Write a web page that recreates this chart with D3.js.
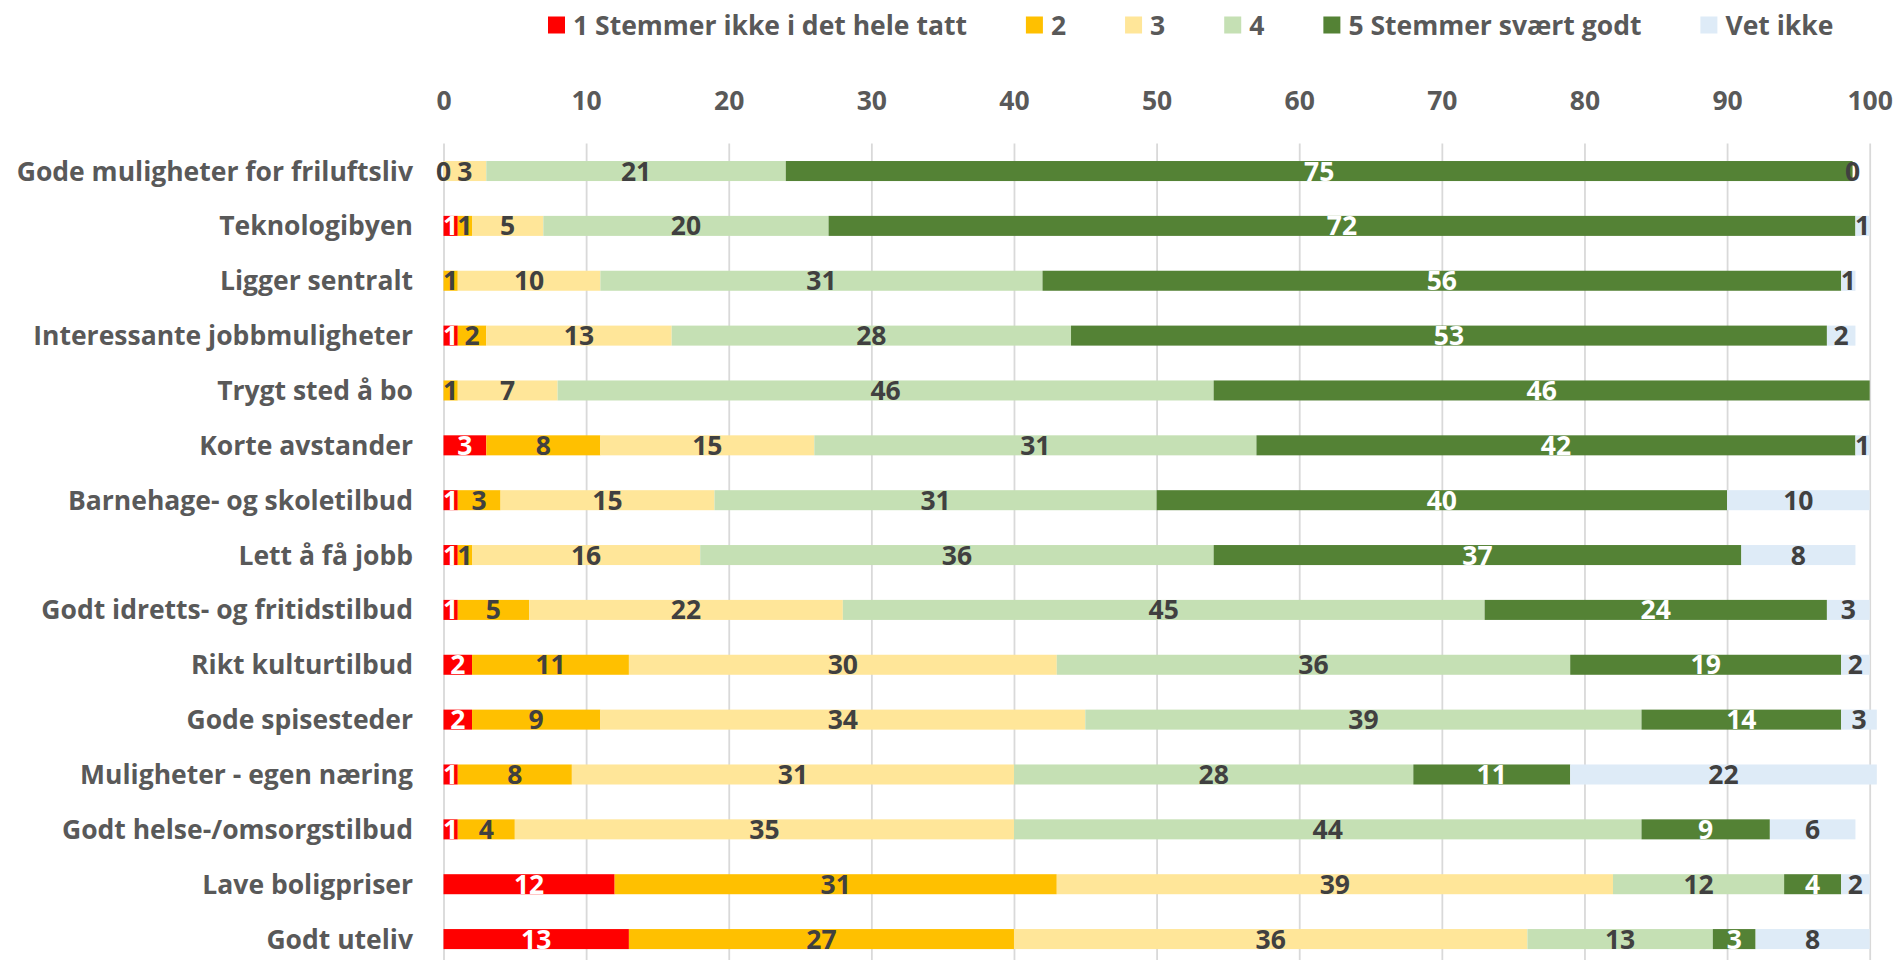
<!DOCTYPE html><html><head><meta charset="utf-8"><script src="https://cdn.jsdelivr.net/npm/d3@7"></script>
<style>body{margin:0;background:#fff}text{font-family:'Open Sans',sans-serif;font-weight:bold}</style></head><body>
<svg id="chart" width="1900" height="960"></svg>
<script>
const categories = ["Gode muligheter for friluftsliv","Teknologibyen","Ligger sentralt","Interessante jobbmuligheter","Trygt sted å bo","Korte avstander","Barnehage- og skoletilbud","Lett å få jobb","Godt idretts- og fritidstilbud","Rikt kulturtilbud","Gode spisesteder","Muligheter - egen næring","Godt helse-/omsorgstilbud","Lave boligpriser","Godt uteliv"];
const seriesNames = ["1 Stemmer ikke i det hele tatt","2","3","4","5 Stemmer svært godt","Vet ikke"];
const s1 = [null, 1, null, 1, null, 3, 1, 1, 1, 2, 2, 1, 1, 12, 13];
const s2 = [0, 1, 1, 2, 1, 8, 3, 1, 5, 11, 9, 8, 4, 31, 27];
const s3 = [3, 5, 10, 13, 7, 15, 15, 16, 22, 30, 34, 31, 35, 39, 36];
const s4 = [21, 20, 31, 28, 46, 31, 31, 36, 45, 36, 39, 28, 44, 12, 13];
const s5 = [74.8, 72, 56, 53, 46, 42, 40, 37, 24, 19, 14, 11, 9, 4, 3];
const s6 = [0, 1, 1, 2, null, 1, 10, 8, 3, 2, 2.5, 21.5, 6, 2, 8];
const tickValues = [0,10,20,30,40,50,60,70,80,90,100];
const colors = ["#FF0000","#FFC000","#FFE699","#C5E0B4","#548235","#DEEBF7"];
const labelColors = ["#FFFFFF","#404040","#404040","#404040","#FFFFFF","#404040"];

const series = [s1,s2,s3,s4,s5,s6];
const FS = 26.5;
const svg = d3.select("#chart");
const x = d3.scaleLinear().domain([0,100]).range([443.5,1869.7]);
const plotTop = 143.6, plotBottom = 966.5;
const y = d3.scaleBand().domain(categories).range([plotTop,plotBottom]).paddingInner(0.635).paddingOuter(0.3175);

// axis + gridlines
const axis = d3.axisTop(x).tickValues(tickValues).tickFormat(d3.format("d")).tickSize(-(plotBottom-plotTop)).tickPadding(33.5);
const gA = svg.append("g").attr("transform",`translate(0,${plotTop})`).call(axis);
gA.select(".domain").remove();
gA.selectAll(".tick line").attr("stroke","#D9D9D9").attr("stroke-width",1.8);
gA.selectAll(".tick text").attr("fill","#595959").attr("font-size",FS).attr("font-family","'Open Sans',sans-serif").attr("font-weight","bold");

// stacked data
const rows = categories.map((c,i)=>{
  let acc = 0;
  return series.map((s,k)=>{
    const v = s[i];
    if (v===null) return null;
    const seg = {cat:c,k,v,x0:acc,x1:acc+v};
    acc += v;
    return seg;
  }).filter(d=>d);
});
const segs = rows.flat();

svg.append("g").selectAll("rect").data(segs).join("rect")
  .attr("x",d=>x(d.x0)).attr("width",d=>Math.max(0,x(d.x1)-x(d.x0)))
  .attr("y",d=>y(d.cat)).attr("height",y.bandwidth())
  .attr("fill",d=>colors[d.k]);

svg.append("g").selectAll("text").data(segs).join("text")
  .attr("x",d=>x((d.x0+d.x1)/2)).attr("y",d=>y(d.cat)+y.bandwidth()/2+9.5)
  .attr("text-anchor","middle").attr("font-size",FS)
  .attr("fill",d=>labelColors[d.k])
  .text(d=>Math.round(d.v));

// category labels
svg.append("g").selectAll("text").data(categories).join("text")
  .attr("x",413).attr("y",d=>y(d)+y.bandwidth()/2+9.5)
  .attr("text-anchor","end").attr("font-size",FS).attr("fill","#595959")
  .text(d=>d);

// legend
const lg = svg.append("g");
let lx = 548;
seriesNames.forEach((n,k)=>{
  lg.append("rect").attr("x",lx).attr("y",16.5).attr("width",17).attr("height",17).attr("fill",colors[k]);
  const t = lg.append("text").attr("x",lx+25).attr("y",34.5).attr("font-size",FS).attr("fill","#595959").text(n);
  lx += 25 + t.node().getComputedTextLength() + 59;
});
</script></body></html>
